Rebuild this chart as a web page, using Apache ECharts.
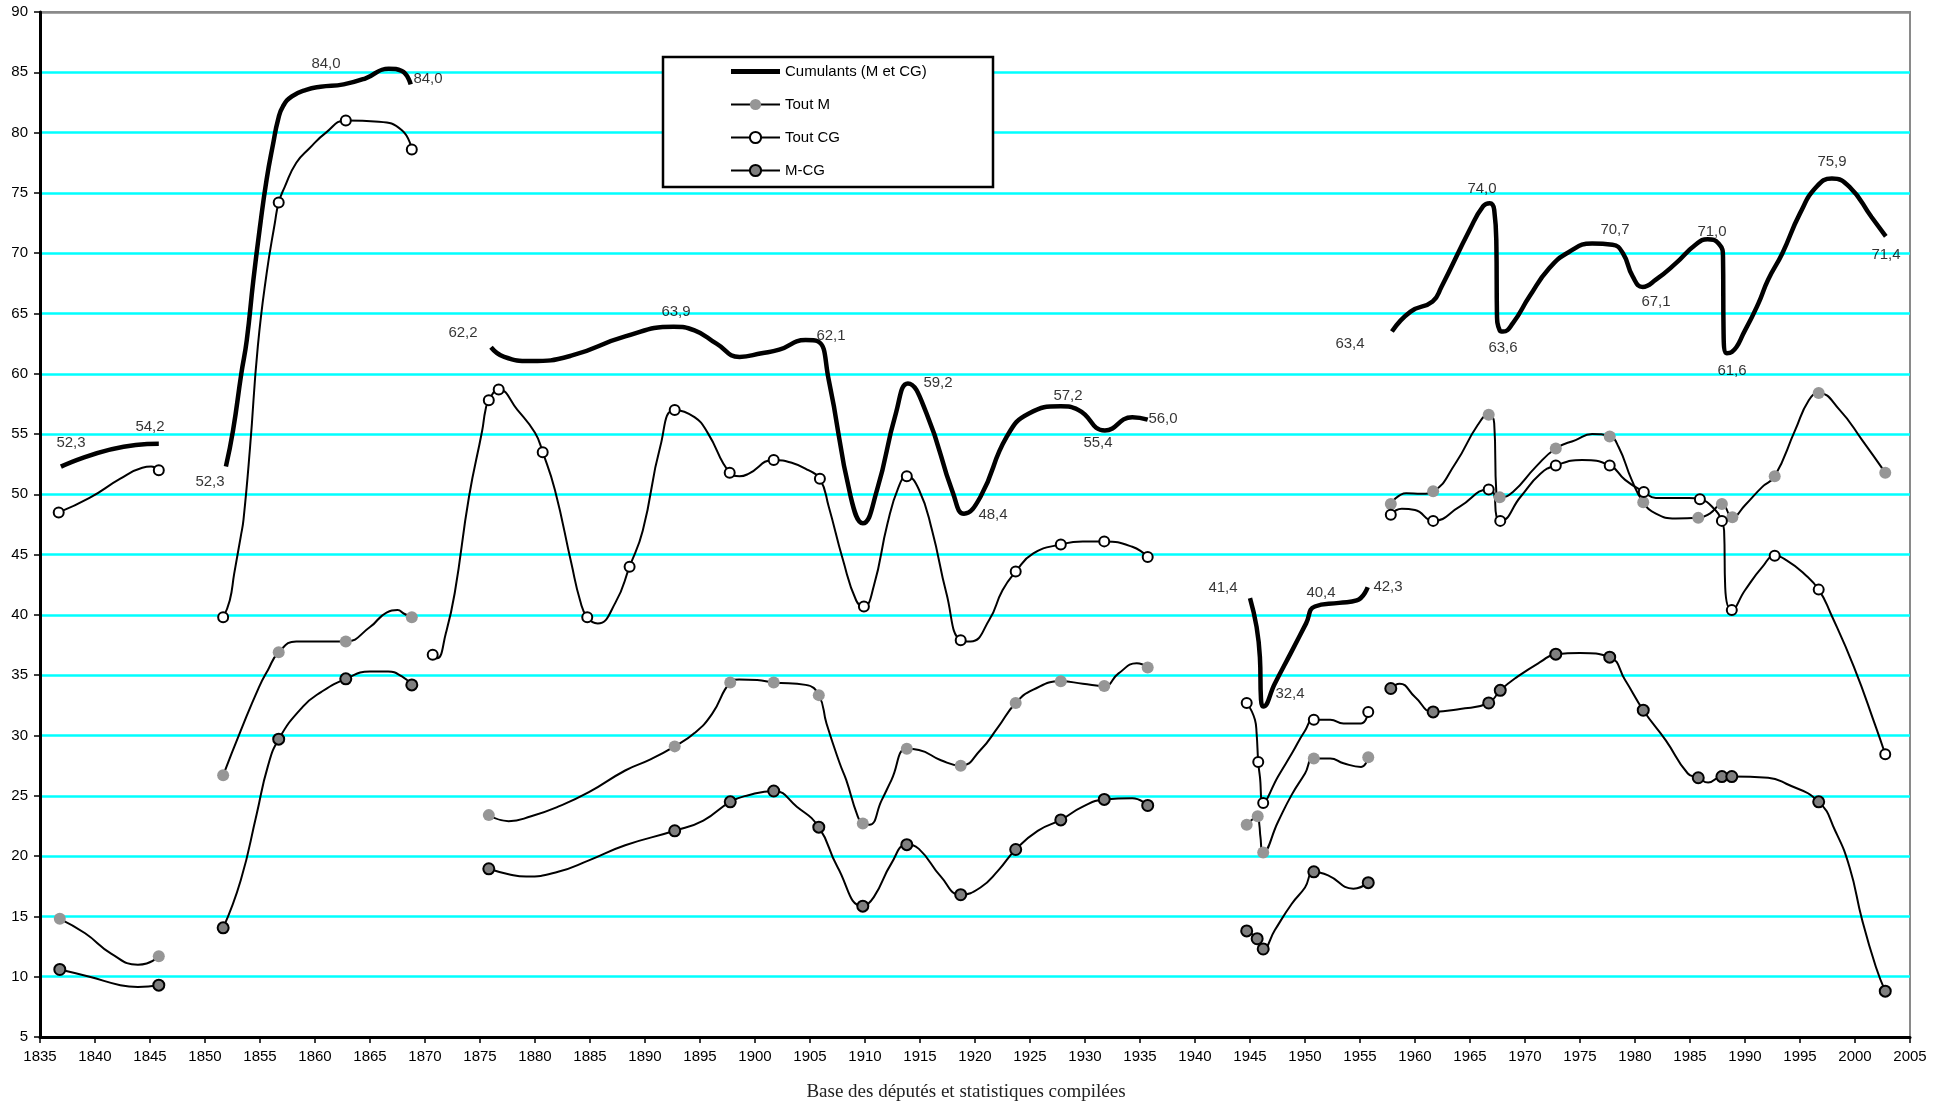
<!DOCTYPE html>
<html><head><meta charset="utf-8">
<script src="https://cdn.jsdelivr.net/npm/echarts@6/dist/echarts.min.js"></script>
<style>html,body{margin:0;padding:0;background:#fff}#c{width:1951px;height:1108px}</style>
</head><body><div id="c"></div>
<script>
// ---------------- DATA ----------------
const seriesNames = ['Cumulants (M et CG)', 'Tout M', 'Tout CG', 'M-CG'];
const sourceNote = 'Base des députés et statistiques compilées';
const xMin = 1835, xMax = 2005, xStep = 5;
const yMin = 5, yMax = 90, yStep = 5;
// years where the series are interrupted (regime changes)
const breakYears = [1849, 1869.8, 1940, 1957];

// Cumulants (M et CG): traced curve (no markers)
const cumCurve = [
  [1836.9,52.3],[1843.7,54.1],[1845.8,54.2],
  [1851.9,52.3],[1852.55,55.3],[1853.3,60.0],[1853.8,62.8],[1854.4,67.8],[1855.0,72.2],[1855.6,76.1],[1856.2,79.1],[1856.65,81.1],[1857.1,82.2],[1857.9,83.0],[1859.2,83.55],[1860.5,83.8],[1862.6,84.0],[1864.6,84.5],[1866.7,85.3],[1867.9,85.1],[1868.7,84.0],
  [1876.0,62.2],[1877.2,61.4],[1879.6,61.05],[1883.3,61.5],[1888.2,63.1],[1892.6,63.9],[1894.5,63.6],[1896.5,62.5],[1898.6,61.4],[1900.6,61.7],[1902.2,62.0],[1904.6,62.8],[1905.7,62.7],[1906.7,59.5],[1908.7,49.8],[1909.8,47.6],[1911.1,50.4],[1912.8,56.7],[1913.9,59.2],[1915.6,56.7],[1918.0,50.1],[1919.0,48.4],[1920.5,49.8],[1922.9,54.8],[1924.9,56.7],[1927.8,57.3],[1929.4,57.0],[1931.8,55.3],[1934.3,56.4],[1935.7,56.2],
  [1945.0,41.4],[1945.6,39.0],[1945.9,36.5],[1946.0,33.0],[1946.2,32.4],[1947.25,34.3],[1948.8,37.0],[1950.1,39.3],[1950.9,40.7],[1953.1,41.0],[1954.7,41.2],[1955.7,42.3],
  [1957.9,63.5],[1959.6,65.15],[1961.6,66.0],[1962.4,67.2],[1964.95,71.9],[1966.2,73.9],[1966.8,74.15],[1967.2,73.6],[1967.4,70.55],[1967.45,65.0],[1967.7,63.6],[1968.0,63.5],[1968.9,64.2],[1970.4,66.4],[1972.2,68.75],[1974.0,70.1],[1976.1,70.8],[1977.95,70.7],[1978.9,70.0],[1979.8,68.05],[1980.7,67.2],[1981.9,67.8],[1983.7,69.15],[1985.5,70.7],[1986.6,71.15],[1987.6,70.8],[1988.0,69.7],[1988.05,63.6],[1988.35,61.7],[1988.8,61.8],[1990.0,63.6],[1991.2,65.8],[1992.1,67.8],[1993.4,70.0],[1995.0,73.3],[1996.5,75.5],[1997.9,76.2],[1999.5,75.5],[2001.5,73.0],[2002.8,71.4]
];
// Cumulants labelled values [year, value]
const cumLabels = [
  [1837,52.3],[1846,54.2],[1852,52.3],[1863,84.0],[1869,84.0],[1876,62.2],[1893,63.9],[1906,62.1],[1914,59.2],[1919,48.4],[1928,57.2],[1932,55.4],[1936,56.0],
  [1945,41.4],[1946,32.4],[1951,40.4],[1956,42.3],[1958,63.4],[1967,74.0],[1968,63.6],[1978,70.7],[1981,67.1],[1986,71.0],[1988,61.6],[1997,75.9],[2002,71.4]
];

// Tout M: observations (markers) and curve points between them
const toutMObs = [
  [1836.8,14.8],[1845.8,11.7],
  [1851.65,26.7],[1856.7,36.9],[1862.8,37.8],[1868.8,39.8],
  [1875.8,23.4],[1892.7,29.1],[1897.75,34.4],[1901.7,34.4],[1905.8,33.35],[1909.8,22.7],[1913.8,28.9],[1918.7,27.5],[1923.7,32.7],[1927.8,34.5],[1931.75,34.1],[1935.7,35.65],
  [1944.7,22.6],[1945.7,23.3],[1946.2,20.3],[1950.8,28.1],[1955.75,28.2],
  [1957.8,49.2],[1961.65,50.25],[1966.7,56.6],[1967.7,49.75],[1972.8,53.8],[1977.7,54.8],[1980.75,49.35],[1985.75,48.05],[1987.9,49.2],[1988.85,48.1],[1992.7,51.5],[1996.7,58.4],[2002.75,51.8]
];
const toutMCurve = [
  [1839.1,13.6],[1841.5,11.9],[1843.9,11.0],[1844.7,11.1],
  [1853.25,30.4],[1854.9,34.0],[1855.7,35.4],[1858.3,37.8],[1862.2,37.8],[1865.0,39.0],[1866.5,40.2],[1867.5,40.4],[1868.1,40.1],
  [1877.6,22.9],[1879.65,23.3],[1882.1,24.1],[1884.9,25.3],[1888.2,27.1],[1890.45,28.0],[1894.5,30.2],[1896.1,31.8],[1898.55,34.65],[1900.2,34.6],[1904.6,34.2],[1906.5,31.0],[1907.7,27.7],[1908.3,26.3],[1909.3,23.4],[1910.4,22.6],[1911.5,24.6],[1912.4,26.3],[1914.9,28.8],[1916.9,27.95],[1920.5,28.8],[1922.1,30.7],[1925.3,33.8],[1929.8,34.3],[1933.05,35.15],[1934.7,36.0],
  [1945.85,22.6],[1945.95,21.6],[1947.55,22.85],[1948.8,25.1],[1950.0,26.85],[1952.3,28.1],[1953.5,27.7],[1955.1,27.4],
  [1959.2,50.1],[1960.6,50.05],[1963.7,52.6],[1965.7,55.75],[1967.2,55.9],[1967.4,50.05],[1968.9,50.2],[1971.0,52.3],[1974.6,54.5],[1976.1,55.0],[1978.5,53.95],[1979.7,51.2],[1981.9,48.4],[1983.7,48.0],[1986.8,48.4],[1990.0,49.1],[1991.55,50.6],[1994.55,55.3],[1995.8,57.8],[1998.6,57.0],[2000.65,54.5]
];

// Tout CG
const toutCGObs = [
  [1836.7,48.5],[1845.8,52.0],
  [1851.65,39.8],[1856.7,74.2],[1862.8,81.0],[1868.8,78.6],
  [1870.7,36.7],[1875.8,57.8],[1876.7,58.7],[1880.7,53.5],[1884.75,39.8],[1888.6,44.0],[1892.7,57.0],[1897.7,51.8],[1901.7,52.85],[1905.9,51.3],[1909.9,40.7],[1913.8,51.5],[1918.7,37.9],[1923.7,43.6],[1927.8,45.85],[1931.75,46.1],[1935.7,44.8],
  [1944.7,32.7],[1945.75,27.8],[1946.2,24.4],[1950.8,31.3],[1955.75,31.96],
  [1957.8,48.3],[1961.65,47.8],[1966.7,50.4],[1967.75,47.8],[1972.8,52.4],[1977.7,52.4],[1980.8,50.2],[1985.9,49.6],[1987.9,47.8],[1988.8,40.4],[1992.7,44.9],[1996.7,42.1],[2002.75,28.45]
];
const toutCGCurve = [
  [1839.5,49.7],[1842.3,51.3],[1844.3,52.2],[1845.1,52.3],
  [1852.25,41.2],[1852.65,43.4],[1853.25,46.5],[1853.5,47.9],[1854.1,53.95],[1854.8,62.25],[1855.6,68.3],[1856.35,72.5],[1857.25,75.5],[1858.3,77.5],[1859.5,78.7],[1861.0,80.0],[1865.8,80.9],[1867.9,80.2],
  [1871.1,36.4],[1871.9,38.5],[1872.7,41.8],[1874.0,49.8],[1875.2,55.3],[1875.5,57.0],[1878.4,57.0],[1880.0,55.1],[1881.8,50.4],[1883.3,44.3],[1884.1,41.2],[1885.7,39.3],[1887.3,41.0],[1889.8,47.0],[1891.4,54.0],[1894.5,56.4],[1895.7,55.1],[1898.6,51.5],[1899.4,51.7],[1903.4,52.6],[1904.85,52.0],[1906.7,49.0],[1908.0,44.55],[1909.2,41.2],[1910.8,42.4],[1912.05,47.6],[1913.05,50.6],[1914.9,50.4],[1916.1,47.0],[1917.4,41.8],[1919.6,37.8],[1921.3,39.6],[1922.5,42.05],[1925.3,45.1],[1929.8,46.1],[1934.3,45.65],
  [1945.45,31.3],[1945.6,30.2],[1945.9,26.6],[1947.55,26.6],[1948.8,28.5],[1950.0,30.4],[1952.3,31.3],[1953.5,31.0],[1955.1,31.0],
  [1958.8,48.8],[1960.0,48.7],[1964.1,49.0],[1967.2,50.0],[1967.4,48.2],[1969.6,49.8],[1971.4,51.7],[1975.2,52.85],[1979.1,51.2],[1981.9,49.7],[1984.9,49.7],[1987.3,48.7],[1988.1,47.0],[1988.2,42.3],[1990.0,42.05],[1991.6,44.0],[1993.75,44.55],[1995.4,43.4],[1997.8,40.1],[1999.9,35.7],[2001.9,30.7]
];

// M-CG
const mcgObs = [
  [1836.8,10.6],[1845.8,9.3],
  [1851.65,14.05],[1856.7,29.7],[1862.8,34.7],[1868.8,34.2],
  [1875.8,18.95],[1892.7,22.1],[1897.75,24.5],[1901.7,25.4],[1905.8,22.4],[1909.8,15.85],[1913.8,20.95],[1918.7,16.8],[1923.7,20.55],[1927.8,23.0],[1931.75,24.7],[1935.7,24.2],
  [1944.7,13.8],[1945.65,13.15],[1946.2,12.3],[1950.8,18.7],[1955.75,17.8],
  [1957.8,33.9],[1961.65,31.96],[1966.7,32.7],[1967.75,33.75],[1972.8,36.75],[1977.7,36.5],[1980.75,32.1],[1985.75,26.5],[1987.9,26.6],[1988.8,26.6],[1996.7,24.5],[2002.75,8.8]
];
const mcgCurve = [
  [1839.5,10.0],[1842.3,9.3],[1843.9,9.15],
  [1853.25,18.0],[1854.7,23.5],[1855.7,27.4],[1858.9,32.4],[1860.55,33.6],[1865.0,35.3],[1866.65,35.3],[1867.9,34.9],
  [1877.6,18.5],[1879.2,18.3],[1882.1,18.7],[1884.9,19.65],[1888.2,20.9],[1895.3,22.95],[1899.4,25.05],[1903.8,24.1],[1907.5,19.1],[1910.8,16.6],[1912.4,19.4],[1914.9,20.6],[1916.9,18.3],[1920.5,17.4],[1922.1,18.8],[1925.7,22.1],[1929.8,24.1],[1934.3,24.8],
  [1947.25,13.85],[1948.8,16.05],[1950.0,17.4],[1952.1,18.4],[1954.4,17.3],
  [1958.6,34.3],[1960.0,33.2],[1964.1,32.2],[1969.35,34.9],[1971.4,36.1],[1975.0,36.85],[1979.1,34.6],[1982.8,29.6],[1984.8,26.85],[1986.65,26.1],[1992.1,26.5],[1993.75,26.0],[1998.2,22.1],[1999.5,19.1],[2000.65,14.7],[2001.9,10.8]
];

// ---------------- BUILD ----------------
const FONT = '"Liberation Sans", Arial, sans-serif';
function buildData(curve, obs) {
  const pts = curve.map(p => ({ value: [p[0], p[1]], symbol: 'none' }))
    .concat(obs.map(p => ({ value: [p[0], p[1]] })));
  pts.sort((a, b) => a.value[0] - b.value[0]);
  const out = [];
  let bi = 0;
  for (const p of pts) {
    while (bi < breakYears.length && p.value[0] > breakYears[bi]) {
      if (out.length) out.push({ value: [breakYears[bi], '-'], symbol: 'none' });
      bi++;
    }
    out.push(p);
  }
  return out;
}
// label offsets (px) for the Cumulants values, same order as cumLabels
const cumLabelOffsets = [
  [9,-24],[-11,-17],[-17,15],[-22,-20],[14,-5],[-28,-14],[-2,-15],[10,-13],[29,-1],[29,1],[5,-12],[-9,14],[12,-3],
  [-27,-10],[29,-13],[5,-17],[17,0],[-43,11],[-10,-16],[0,18],[2,-15],[10,14],[11,-9],[9,16],[10,-20],[9,19]
];

const yColors = [];
for (let v = yMin; v <= yMax; v += yStep) yColors.push(v === yMax ? '#8a8a8a' : '#00ffff');

const chart = echarts.init(document.getElementById('c'), null, { renderer: 'canvas' });
chart.setOption({
  animation: false,
  backgroundColor: '#fff',
  textStyle: { fontFamily: FONT },
  grid: { left: 40, right: 41, top: 12, bottom: 71, show: true, borderColor: '#8a8a8a', borderWidth: 2, backgroundColor: '#fff' },
  xAxis: {
    type: 'value', min: xMin, max: xMax, interval: xStep,
    axisLine: { show: true, onZero: false, lineStyle: { color: '#000', width: 3 } },
    axisTick: { show: true, length: 6, lineStyle: { color: '#000', width: 1.5 } },
    axisLabel: { margin: 12, fontSize: 15, color: '#000', fontFamily: FONT, formatter: v => String(v) },
    splitLine: { show: false }
  },
  yAxis: {
    type: 'value', min: yMin, max: yMax, interval: yStep,
    axisLine: { show: true, onZero: false, lineStyle: { color: '#000', width: 3 } },
    axisTick: { show: true, length: 6, lineStyle: { color: '#000', width: 1.5 } },
    axisLabel: { margin: 12, fontSize: 15, color: '#000', fontFamily: FONT },
    splitLine: { show: true, lineStyle: { color: yColors, width: 2.5 } }
  },
  legend: {
    data: [
      { name: seriesNames[0], icon: 'path://M0,0H100V10H0Z', itemStyle: { color: '#000' } },
      seriesNames[1], seriesNames[2], seriesNames[3]
    ],
    orient: 'vertical', left: 730, top: 64,
    itemWidth: 49, itemHeight: 14, itemGap: 18, padding: 0, z: 20,
    symbolKeepAspect: true,
    selectedMode: false,
    textStyle: { fontSize: 15, color: '#000', fontFamily: FONT }
  },
  graphic: [
    { type: 'rect', z: 10, shape: { x: 663, y: 57, width: 330, height: 130 },
      style: { fill: '#fff', stroke: '#000', lineWidth: 2.5 } },
    { type: 'text', z: 10, x: 966, y: 1092,
      style: { text: sourceNote, font: '19px "Liberation Serif", "Times New Roman", serif', fill: '#222', align: 'center', verticalAlign: 'middle' } }
  ],
  series: [
    { name: seriesNames[0], type: 'line', smooth: 0.5, symbol: 'none', z: 3,
      lineStyle: { color: '#000', width: 4.5 }, itemStyle: { color: '#000' },
      data: buildData(cumCurve, []) },
    { name: seriesNames[1], type: 'line', smooth: 0.5, symbol: 'circle', symbolSize: 12, showSymbol: true, z: 4,
      lineStyle: { color: '#000', width: 2 }, itemStyle: { color: '#969696', borderWidth: 0 },
      data: buildData(toutMCurve, toutMObs) },
    { name: seriesNames[2], type: 'line', smooth: 0.5, symbol: 'circle', symbolSize: 10, showSymbol: true, z: 4,
      lineStyle: { color: '#000', width: 2 }, itemStyle: { color: '#fff', borderColor: '#000', borderWidth: 2 },
      data: buildData(toutCGCurve, toutCGObs) },
    { name: seriesNames[3], type: 'line', smooth: 0.5, symbol: 'circle', symbolSize: 11, showSymbol: true, z: 4,
      lineStyle: { color: '#000', width: 2 }, itemStyle: { color: '#7f7f7f', borderColor: '#000', borderWidth: 2 },
      data: buildData(mcgCurve, mcgObs) },
    { name: 'labels', type: 'scatter', silent: true, symbol: 'circle', symbolSize: 1, z: 6,
      itemStyle: { color: 'rgba(0,0,0,0)' },
      label: { show: true, position: 'inside', align: 'center', verticalAlign: 'middle', color: '#000', fontSize: 15, fontFamily: FONT,
        formatter: p => p.value[1].toFixed(1).replace('.', ',') },
      data: cumLabels.map((p, i) => ({ value: p, label: { offset: cumLabelOffsets[i] } })) }
  ]
});
</script>
</body></html>
